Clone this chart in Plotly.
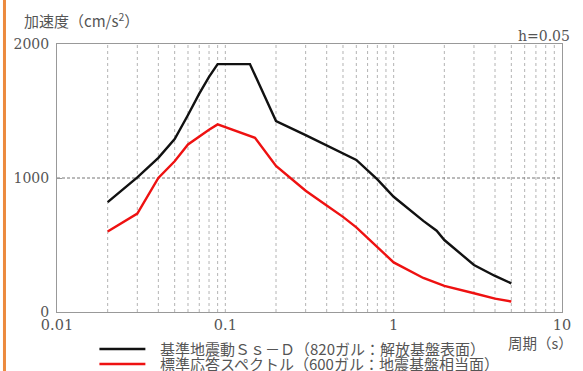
import plotly.graph_objects as go

# ---- data ----
period_ss = [0.02, 0.03, 0.04, 0.05, 0.06, 0.07, 0.08, 0.09, 0.14, 0.2, 0.3, 0.4, 0.5, 0.6,
             0.8, 1.0, 1.5, 1.8, 2.0, 3.0, 4.0, 5.0]
accel_ss = [820, 1005, 1150, 1290, 1470, 1630, 1755, 1850, 1850, 1425, 1320, 1242, 1183, 1135,
            990, 860, 680, 607, 537, 351, 269, 214]

period_std = [0.02, 0.03, 0.04, 0.05, 0.06, 0.07, 0.08, 0.09, 0.15, 0.2, 0.3, 0.4, 0.5, 0.6,
              0.8, 1.0, 1.5, 2.0, 3.0, 4.0, 5.0]
accel_std = [600, 735, 1000, 1125, 1250, 1310, 1360, 1400, 1300, 1090, 905, 795, 710, 632,
             485, 370, 254, 195, 140, 100, 78]

name_ss = "基準地震動Ｓｓ－Ｄ（820ガル：解放基盤表面）"
name_std = "標準応答スペクトル（600ガル：地震基盤相当面）"

x_tickvals = [0.01, 0.1, 1, 10]
x_ticktext = ["0.01", "0.1", "1", "10"]
y_tickvals = [0, 1000, 2000]
y_ticktext = ["0", "1000", "2000"]
grid_periods = [m * 10 ** e for e in (-2, -1, 0) for m in range(2, 11)]

NUMFONT = "DejaVu Serif, Liberation Serif, serif"
JPFONT = "Noto Sans CJK JP, sans-serif"
TXT = "#555555"

fig = go.Figure()
fig.add_trace(go.Scatter(x=period_ss, y=accel_ss, mode="lines", name=name_ss,
                         line=dict(color="#111111", width=2.4), showlegend=False))
fig.add_trace(go.Scatter(x=period_std, y=accel_std, mode="lines", name=name_std,
                         line=dict(color="#ee1111", width=2.4), showlegend=False))

shapes = []
for p in grid_periods[:-1]:
    shapes.append(dict(type="line", xref="x", yref="paper", x0=p, x1=p, y0=0, y1=1,
                       line=dict(color="#b4b4b4", width=1, dash="dot"), layer="below"))
shapes.append(dict(type="line", xref="paper", yref="y", x0=0, x1=1, y0=1000, y1=1000,
                   line=dict(color="#777777", width=1, dash="3px,2px"), layer="below"))
# orange bar at left edge of the page
shapes.append(dict(type="line", xref="paper", yref="paper", x0=-0.104, x1=-0.104, y0=-0.25, y1=1.2,
                   line=dict(color="#ec8a3e", width=3)))
# legend sample lines
shapes.append(dict(type="line", xref="paper", yref="paper", x0=0.084, x1=0.175, y0=-0.138, y1=-0.138,
                   line=dict(color="#111111", width=2.4)))
shapes.append(dict(type="line", xref="paper", yref="paper", x0=0.084, x1=0.175, y0=-0.194, y1=-0.194,
                   line=dict(color="#ee1111", width=2.4)))

def ann(text, x, y, anchor, size, family):
    return dict(text=text, xref="paper", yref="paper", x=x, y=y, xanchor=anchor, align=anchor,
                yanchor="middle", showarrow=False, font=dict(size=size, color=TXT, family=family))

annotations = [
    ann("加速度（cm/s<sup>2</sup>）", -0.069, 1.09, "left", 15, JPFONT),
    ann("h=0.05", 1.0196, 1.03, "right", 14, NUMFONT),
    ann("周期（s）", 1.0255, -0.112, "right", 14.5, JPFONT),
    ann(name_ss, 0.2, -0.138, "left", 15, JPFONT),
    ann(name_std, 0.2, -0.194, "left", 15, JPFONT),
]

fig.update_layout(
    width=583, height=371,
    margin=dict(l=57, r=16, t=44, b=59),
    paper_bgcolor="white", plot_bgcolor="white",
    font=dict(family=NUMFONT, size=14, color=TXT),
    hovermode=False,
    shapes=shapes, annotations=annotations,
    xaxis=dict(type="log", range=[-2, 1], tickvals=x_tickvals, ticktext=x_ticktext,
               showgrid=False, zeroline=False, showline=True, linecolor="#999999", linewidth=1,
               mirror=True, ticks="", tickfont=dict(size=14.5, color=TXT, family=NUMFONT)),
    yaxis=dict(range=[0, 2000], tickvals=y_tickvals, ticktext=y_ticktext,
               showgrid=False, zeroline=False, showline=True, linecolor="#999999", linewidth=1,
               mirror=True, ticks="inside", ticklen=5, tickcolor="#999999", ticklabelstandoff=4,
               tickfont=dict(size=14, color=TXT, family=NUMFONT)),
)

fig.write_html("out.html", config={"displayModeBar": False},
               post_script="document.body.style.margin='0px';")
